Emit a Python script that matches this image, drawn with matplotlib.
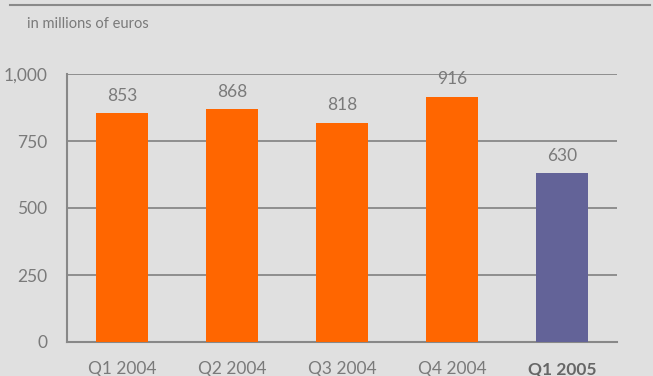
import matplotlib.pyplot as plt
from matplotlib.lines import Line2D

quarters = ['Q1 2004', 'Q2 2004', 'Q3 2004', 'Q4 2004', 'Q1 2005']
revenue = [853, 868, 818, 916, 630]
bar_colors = ['#ff6600', '#ff6600', '#ff6600', '#ff6600', '#636398']
yticks = [0, 250, 500, 750, 1000]
ytick_labels = ['0', '250', '500', '750', '1,000']

plt.rcParams['font.family'] = ['Lato', 'DejaVu Sans']
txt = '#7a7a7a'

fig = plt.figure(figsize=(6.53, 3.76), dpi=100, facecolor='#e0e0e0')
ax = fig.add_axes([67 / 653, 1 - 342 / 376, 550 / 653, 268 / 376])
ax.set_facecolor('#e0e0e0')

x = range(len(quarters))
ax.bar(x, revenue, width=0.48, color=bar_colors, zorder=3)
for i, v in enumerate(revenue):
    ax.text(i, v + 35, str(v), ha='center', va='bottom', fontsize=12.5, color=txt)

ax.set_xlim(-0.5, 4.5)
ax.set_ylim(0, 1000)
ax.set_yticks(yticks)
ax.set_yticklabels(ytick_labels)
ax.set_xticks(list(x))
ax.set_xticklabels(quarters)
ax.tick_params(length=0, labelsize=12.5, colors=txt)
ax.tick_params(axis='y', pad=14)
ax.tick_params(axis='x', pad=14)
lbl = ax.get_xticklabels()[-1]
lbl.set_fontweight('bold')
lbl.set_color('#666666')

ax.grid(axis='y', color='#888888', linewidth=1.3, zorder=1)
for s in ['top', 'right']:
    ax.spines[s].set_visible(False)
ax.spines['left'].set_color('#888888')
ax.spines['left'].set_linewidth(1.5)
ax.spines['bottom'].set_color('#888888')
ax.spines['bottom'].set_linewidth(1.5)

fig.text(27 / 653, 1 - 24 / 376, 'in millions of euros', fontsize=10.5, color=txt, va='center')
fig.add_artist(Line2D([10 / 653, 650 / 653], [1 - 5 / 376, 1 - 5 / 376],
                      transform=fig.transFigure, color='#8a8a8a', linewidth=1.5))

fig.savefig('out.png', dpi=100, facecolor=fig.get_facecolor())
